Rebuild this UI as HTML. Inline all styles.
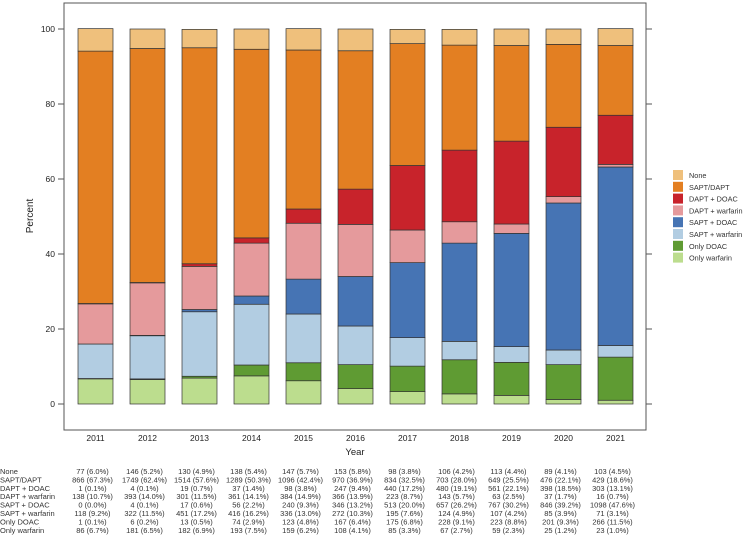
<!DOCTYPE html>
<html><head><meta charset="utf-8"><style>
body{margin:0;background:#fff;width:748px;height:547px;overflow:hidden}
svg{font-family:"Liberation Sans",Arial,sans-serif}
</style></head><body>
<svg id="chart" width="748" height="547"></svg>
<script>
const years=["2011","2012","2013","2014","2015","2016","2017","2018","2019","2020","2021"];
const seriesNames=["None","SAPT/DAPT","DAPT + DOAC","DAPT + warfarin","SAPT + DOAC","SAPT + warfarin","Only DOAC","Only warfarin"];
const colors=["#EFC07C","#E37F22","#C8232B","#E59A9C","#4674B4","#B2CDE2","#5F9B33","#BCDD8E"];
const nNone=[77,146,130,138,147,153,98,106,113,89,103];
const pNone=[6.0,5.2,4.9,5.4,5.7,5.8,3.8,4.2,4.4,4.1,4.5];
const nSD=[866,1749,1514,1289,1096,970,834,703,649,476,429];
const pSD=[67.3,62.4,57.6,50.3,42.4,36.9,32.5,28.0,25.5,22.1,18.6];
const nDD=[1,4,19,37,98,247,440,480,561,398,303];
const pDD=[0.1,0.1,0.7,1.4,3.8,9.4,17.2,19.1,22.1,18.5,13.1];
const nDW=[138,393,301,361,384,366,223,143,63,37,16];
const pDW=[10.7,14.0,11.5,14.1,14.9,13.9,8.7,5.7,2.5,1.7,0.7];
const nSDo=[0,4,17,56,240,346,513,657,767,846,1098];
const pSDo=[0.0,0.1,0.6,2.2,9.3,13.2,20.0,26.2,30.2,39.2,47.6];
const nSW=[118,322,451,416,336,272,195,124,107,85,71];
const pSW=[9.2,11.5,17.2,16.2,13.0,10.3,7.6,4.9,4.2,3.9,3.1];
const nOD=[1,6,13,74,123,167,175,228,223,201,266];
const pOD=[0.1,0.2,0.5,2.9,4.8,6.4,6.8,9.1,8.8,9.3,11.5];
const nOW=[86,181,182,193,159,108,85,67,59,25,23];
const pOW=[6.7,6.5,6.9,7.5,6.2,4.1,3.3,2.7,2.3,1.2,1.0];
const yTicks=[0,20,40,60,80,100];

const counts=[nNone,nSD,nDD,nDW,nSDo,nSW,nOD,nOW];
const pcts=[pNone,pSD,pDD,pDW,pSDo,pSW,pOD,pOW];
const NS="http://www.w3.org/2000/svg";
const svg=document.getElementById('chart');
function mk(t,a,p){const e=document.createElementNS(NS,t);for(const k in a)e.setAttribute(k,a[k]);(p||svg).appendChild(e);return e;}
const y=v=>404-v*3.75;
const x=i=>95.5+i*52;
const bw=35;
const fr=mk('rect',{x:64,y:3,width:582,height:427,fill:'none',stroke:'#555','stroke-width':1});


yTicks.forEach(t=>{
  const l=mk('line',{x1:58,x2:64,y1:y(t),y2:y(t),stroke:'#555'});
  
  
  const r=mk('line',{x1:646,x2:652,y1:y(t),y2:y(t),stroke:'#555'});
  
  
  const tx=mk('text',{x:55,y:y(t)+3,'text-anchor':'end','font-size':8.5,fill:'#222'});
  tx.textContent=t;
  
  
});
const yt=mk('text',{x:0,y:0,'text-anchor':'middle','font-size':10,fill:'#222',transform:'translate(33,216) rotate(-90)'});
yt.textContent='Percent';


years.forEach((yr,i)=>{
  let cum=0;
  for(let s=seriesNames.length-1;s>=0;s--){
    const v=pcts[s][i];
    const r=mk('rect',{x:x(i)-bw/2,y:y(cum+v),width:bw,height:Math.max(0,y(cum)-y(cum+v)),fill:colors[s],stroke:'#333','stroke-width':0.7});
    
    
    cum+=v;
  }
  const t=mk('text',{x:x(i),y:441,'text-anchor':'middle','font-size':8.5,fill:'#222'});
  t.textContent=yr;
  
  
});
const xt=mk('text',{x:355,y:455,'text-anchor':'middle','font-size':9.5,fill:'#222'});
xt.textContent='Year';


seriesNames.forEach((n,s)=>{
  const yy=170+s*11.8;
  const r=mk('rect',{x:673,y:yy,width:10,height:10,fill:colors[s]});
  
  
  const t=mk('text',{x:689,y:yy+8,'font-size':7.3,fill:'#333'});
  t.textContent=n;
  
  
});
seriesNames.forEach((n,s)=>{
  const yy=474+s*8.4;
  const t=mk('text',{x:0,y:yy,'font-size':7.5,fill:'#333'});
  t.textContent=n;
  
  
  years.forEach((yr,i)=>{
    const c=mk('text',{x:x(i)-3,y:yy,'text-anchor':'middle','font-size':7.5,fill:'#333'});
    c.textContent=counts[s][i]+' ('+pcts[s][i].toFixed(1)+'%)';
    
    
  });
});
</script>
</body></html>
